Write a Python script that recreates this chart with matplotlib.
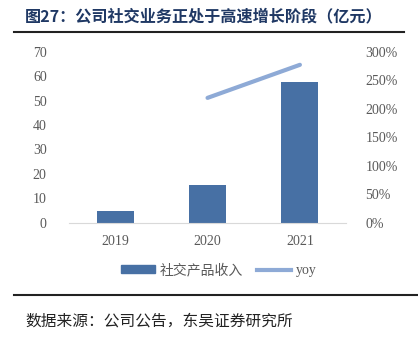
import matplotlib.pyplot as plt
from matplotlib.lines import Line2D
from matplotlib.patches import Patch

plt.rcParams['font.family'] = ['Liberation Serif', 'Noto Sans CJK SC']

years = ['2019', '2020', '2021']
revenue = [4.8, 15.3, 57.7]        # 社交产品收入（亿元）
yoy_years = ['2020', '2021']
yoy = [2.19, 2.77]                 # 同比增速

bar_color = '#4770A4'
line_color = '#8EAAD6'
tick_color = '#595959'

fig = plt.figure(figsize=(4.18, 3.39), dpi=100)
ax = fig.add_axes([0.165, 0.343, 0.663, 0.5045])

x = list(range(len(years)))
ax.bar(x, revenue, width=0.4, color=bar_color, zorder=2)
ax.set_xlim(-0.5, 2.5)
ax.set_ylim(0, 70)
ax.set_yticks(range(0, 71, 10))
ax.set_xticks(x)
ax.set_xticklabels(years)

ax2 = ax.twinx()
yoy_x = [years.index(y) for y in yoy_years]
ax2.plot(yoy_x, yoy, color=line_color, lw=3, solid_capstyle='round', zorder=3)
ax2.set_ylim(0, 3.0)
ax2.set_yticks([i * 0.5 for i in range(7)])
ax2.set_yticklabels([f'{int(v * 100)}%' for v in ax2.get_yticks()])

for a in (ax, ax2):
    for s in a.spines.values():
        s.set_visible(False)
    a.tick_params(length=0, labelsize=10, labelcolor=tick_color)
ax.spines['bottom'].set_visible(True)
ax.spines['bottom'].set_color('#D9D9D9')
ax.tick_params(axis='y', pad=16)
ax.tick_params(axis='x', pad=9)
ax2.tick_params(axis='y', pad=14)

handles = [Patch(color=bar_color), Line2D([], [], color=line_color, lw=3)]
fig.legend(handles, ['社交产品收入', 'yoy'], loc='center', bbox_to_anchor=(0.523, 0.203),
           ncol=2, frameon=False, labelcolor=tick_color,
           handlelength=2.5, handleheight=0.45, columnspacing=1.0, handletextpad=0.3,
           prop={'family': ['Liberation Serif', 'Noto Sans CJK SC'], 'size': 10})

# 标题与上下分隔线
fig.text(0.06, 0.953, '图27：公司社交业务正处于高速增长阶段（亿元）', fontsize=11.6,
         fontweight='bold', color='#1F3864', va='center', family=['Noto Sans CJK SC'])
fig.add_artist(Line2D([0.034, 0.966], [0.906, 0.906], color='#222222', lw=1.5))
fig.add_artist(Line2D([0.034, 1.0], [0.130, 0.130], color='#222222', lw=1.5))
fig.text(0.06, 0.053, '数据来源：公司公告，东吴证券研究所', fontsize=11.3, color='#222222',
         va='center', family=['Noto Sans CJK SC'])

fig.savefig('out.png', dpi=100)
